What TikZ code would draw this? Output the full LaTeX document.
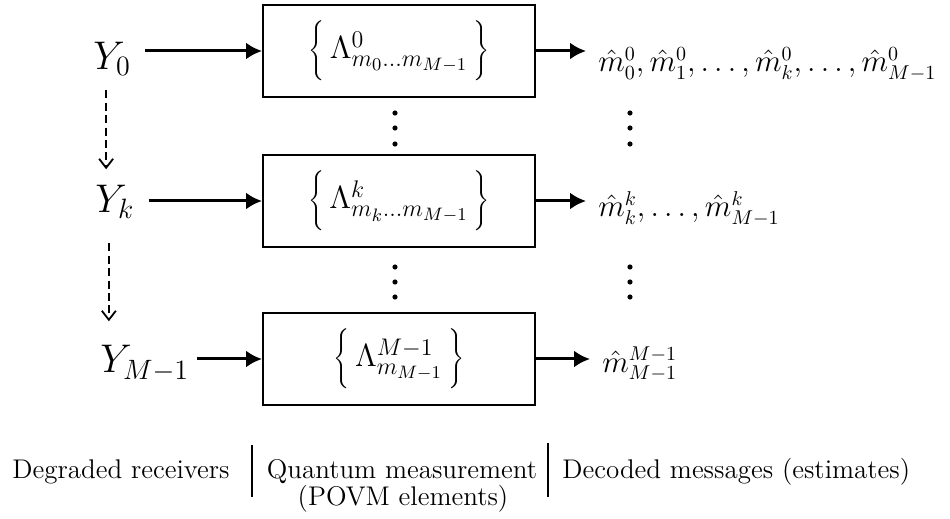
\RequirePackage{fix-cm}
\documentclass[tikz,border=0pt]{standalone}
\usetikzlibrary{arrows.meta}
\DeclareMathSizes{20}{20}{14}{10}
\DeclareMathSizes{16}{16}{12}{9}
\DeclareMathSizes{15.5}{15.5}{10}{7}
\newcommand\qstrut{\vcenter{\hbox{\rule{0pt}{32pt}}}}
\tikzset{
  qbox/.style={draw, line width=1pt, minimum width=136pt, minimum height=46pt, inner sep=0pt,
    font=\fontsize{16}{19.2}\selectfont},
  ylab/.style={font=\fontsize{20}{24}\selectfont, inner sep=0pt, anchor=base west},
  outlab/.style={font=\fontsize{15.5}{18}\selectfont, inner sep=0pt, anchor=base west},
  caption/.style={font=\fontsize{13.5}{15}\selectfont, inner sep=0pt},
  arr/.style={-{Latex[length=8pt,width=8.5pt]}, line width=1.5pt},
  darr/.style={-{Straight Barb[length=4.5pt,width=7pt]}, line width=0.9pt, dash pattern=on 4pt off 2.2pt},
  vdot/.style={fill=black},
  sep/.style={line width=0.8pt}
}
\begin{document}
\begin{tikzpicture}[x=0.5pt,y=-0.5pt]
\useasboundingbox (0,0) rectangle (950,519);
% boxes
\node[qbox] (b0) at (399,51)  {$\left\{\qstrut\,\Lambda^{0}_{m_0\ldots m_{M-1}}\,\right\}$};
\node[qbox] (bk) at (399,201) {$\left\{\qstrut\,\Lambda^{k}_{m_k\ldots m_{M-1}}\,\right\}$};
\node[qbox] (bm) at (399,359) {$\left\{\qstrut\,\Lambda^{M-1}_{m_{M-1}}\,\right\}$};
% receivers
\node[ylab] (y0) at (93,70)  {$Y_0$};
\node[ylab] (yk) at (95,213) {$Y_k$};
\node[ylab] (ym) at (100,373) {$Y_{M-1}$};
% outputs
\node[outlab] (o0) at (598,72)  {$\hat m^0_0,\hat m^0_1,\ldots,\hat m^0_k,\ldots,\hat m^0_{M-1}$};
\node[outlab] (ok) at (598,217) {$\hat m^k_k,\ldots,\hat m^k_{M-1}$};
\node[outlab] (om) at (602,372) {$\hat m^{M-1}_{M-1}$};
% input arrows
\draw[arr, shorten <=7pt] (y0.east |- b0.west) -- (b0.west);
\draw[arr, shorten <=7pt] (yk.east |- bk.west) -- (bk.west);
\draw[arr, shorten <=4pt] (ym.east |- bm.west) -- (bm.west);
% output arrows
\draw[arr, shorten >=6pt] (b0.east) -- (b0.east -| o0.west);
\draw[arr, shorten >=6pt] (bk.east) -- (bk.east -| ok.west);
\draw[arr, shorten >=6pt] (bm.east) -- (bm.east -| om.west);
% dashed arrows
\draw[darr, shorten <=7pt, shorten >=8pt] ([xshift=-3pt]y0.south) -- ([xshift=-3pt]y0.south |- yk.north);
\draw[darr, shorten <=12pt, shorten >=12pt] ([xshift=-3pt]yk.south) -- ([xshift=-3pt]yk.south |- ym.north);
% vertical dots
\foreach \yy in {113,128,144,267,282,297} {
  \fill[vdot] (395,\yy) circle (1.3pt);
  \fill[vdot] (630,\yy) circle (1.3pt);
}
% captions
\node[caption, anchor=base west] (c1) at (12,479) {Degraded receivers};
\node[caption, anchor=base] (c2) at (402,479) {Quantum measurement};
\node[caption, anchor=base] (c2b) at (403,506) {(POVM elements)};
\node[caption, anchor=base west] (c3) at (562,479) {Decoded messages (estimates)};
\draw[sep] (252,445) -- (252,497);
\draw[sep] (548,443) -- (548,497);
\end{tikzpicture}
\end{document}
